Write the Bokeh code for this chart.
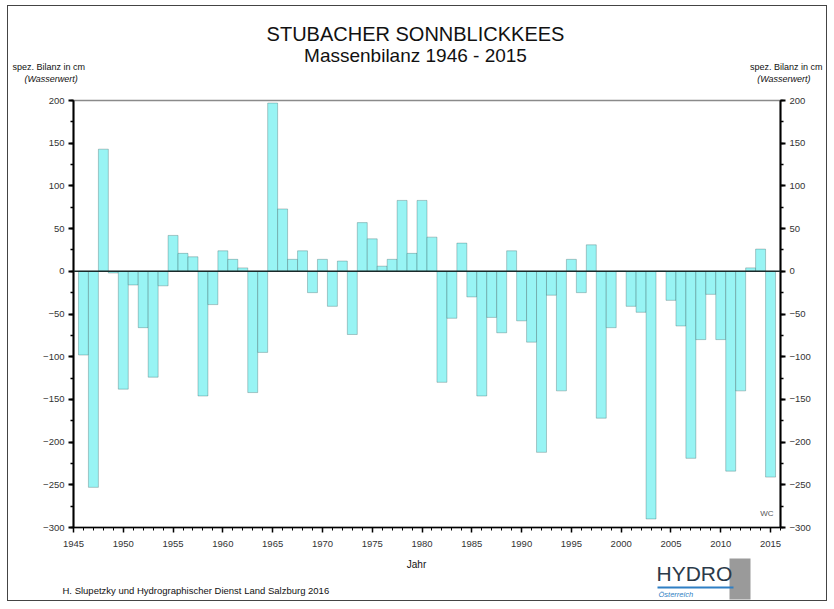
from bokeh.plotting import figure
from bokeh.models import (Range1d, LinearAxis, SingleIntervalTicker, Span, Label,
                          BoxAnnotation, ColumnDataSource)
from bokeh.embed import file_html
from bokeh.resources import INLINE

# ---- data (specific mass balance, cm water equivalent) ----
years = list(range(1946, 2016))
balance = [
    -98, -253, 143, -2, -138, -16, -66, -124, -17, 42,      # 1946-1955
    21, 17, -146, -39, 24, 14, 4, -142, -95, 197,           # 1956-1965
    73, 14, 24, -25, 14, -41, 12, -74, 57, 38,              # 1966-1975
    6, 14, 83, 21, 83, 40, -130, -55, 33, -30,              # 1976-1985
    -146, -54, -72, 24, -58, -83, -212, -28, -140, 14,      # 1986-1995
    -25, 31, -172, -66, 0, -41, -48, -290, 0, -34,          # 1996-2005
    -64, -219, -80, -27, -80, -234, -140, 4, 26, -241,      # 2006-2015
]
title_1 = "STUBACHER SONNBLICKKEES"
title_2 = "Massenbilanz 1946 - 2015"
y_label_1 = "spez. Bilanz in cm"
y_label_2 = "(Wasserwert)"
x_label = "Jahr"
credit = "H. Slupetzky und Hydrographischer Dienst Land Salzburg 2016"

FONT = "Liberation Sans"
OX, OY = 8, 6            # page position of the chart box
W = 820                  # chart box width
TOP_Y, MAIN_Y, BOT_Y, END_Y = OY, 90, 555, 602   # page y of panel edges
FL, FR, FT, FB = 73, 780, 101, 528               # page px of plot frame
EDGE = "1px solid #444"


def panel(y0, y1, styles):
    h = y1 - y0
    f = figure(width=W, height=h, x_range=Range1d(0, W), y_range=Range1d(h, 0),
               x_axis_type=None, y_axis_type=None, min_border=0,
               output_backend="svg", toolbar_location=None)
    f.grid.visible = False
    f.outline_line_color = None
    f.styles = styles
    f._y0 = y0
    return f


def lab(f, px, py, text, size, align="left", style="normal", color="#111111"):
    f.add_layout(Label(x=px - OX, y=py - f._y0, text=text, text_font=FONT,
                       text_font_size=size, text_align=align, text_baseline="middle",
                       text_font_style=style, text_color=color))


# ---- top panel: titles ----
top = panel(TOP_Y, MAIN_Y, {"margin-left": f"{OX - 1}px", "margin-top": f"{OY - 1}px",
                            "border-left": EDGE, "border-right": EDGE, "border-top": EDGE})
lab(top, 415, 33, title_1, "20px", align="center")
lab(top, 415, 55, title_2, "19px", align="center")
lab(top, 12, 66, y_label_1, "9px")
lab(top, 24, 78, y_label_2, "9px", style="italic")
lab(top, 822, 66, y_label_1, "9px", align="right")
lab(top, 810, 78, y_label_2, "9px", align="right", style="italic")

# ---- main chart ----
src = ColumnDataSource(dict(year=years, bal=balance))
p = figure(width=W, height=BOT_Y - MAIN_Y, x_range=Range1d(1945, 2016),
           y_range=Range1d(-300, 200), output_backend="svg", toolbar_location=None,
           min_border_left=FL - OX, min_border_right=OX + W - FR,
           min_border_top=FT - MAIN_Y, min_border_bottom=BOT_Y - FB)
p.styles = {"margin-left": f"{OX - 1}px", "border-left": EDGE, "border-right": EDGE}
p.grid.visible = False
p.outline_line_color = "#8a8a8a"
p.outline_line_width = 1.5

p.vbar(x="year", top="bal", bottom=0, width=1.0, source=src,
       fill_color="#98F4F4", line_color="#103030", line_alpha=0.25, line_width=1)
p.add_layout(Span(location=0, dimension="width", line_color="#1a2a2a", line_width=1.5))

p.xaxis.ticker = SingleIntervalTicker(interval=5, num_minor_ticks=5)
p.yaxis.ticker = SingleIntervalTicker(interval=50, num_minor_ticks=2)
right = LinearAxis(ticker=SingleIntervalTicker(interval=50, num_minor_ticks=2))
p.add_layout(right, "right")

for ax in p.axis:
    ax.axis_line_color = "black"
    ax.major_tick_line_color = "black"
    ax.minor_tick_line_color = "black"
    ax.major_tick_in = 0
    ax.minor_tick_in = 0
    ax.major_tick_out = 5
    ax.minor_tick_out = 3
    ax.major_label_text_font = FONT
    ax.major_label_text_font_size = "9.5px"
    ax.major_label_text_color = "#333333"
    ax.major_label_standoff = 4
for ax in p.yaxis:
    ax.axis_line_width = 2
    ax.major_tick_line_width = 2
    ax.minor_tick_line_width = 1.5
p.xaxis.axis_line_width = 1.5
p.xaxis.major_tick_line_width = 1.5
p.xaxis.major_label_standoff = 8

wc = Label(x=2015.3, y=-284, text="WC", text_font=FONT, text_font_size="8px",
           text_align="right", text_baseline="middle", text_color="#555555")
p.add_layout(wc)

# ---- bottom panel: axis title, credit, logo ----
bot = panel(BOT_Y, END_Y, {"margin-left": f"{OX - 1}px", "border-left": EDGE,
                           "border-right": EDGE, "border-bottom": EDGE})
lab(bot, 416, 565, x_label, "10px", align="center")
lab(bot, 62, 591, credit, "9.5px")
bot.add_layout(BoxAnnotation(left=729 - OX, right=750 - OX, top=559 - BOT_Y, bottom=600 - BOT_Y,
                             fill_color="#9a9a9a", fill_alpha=1, line_color=None))
bot.add_layout(BoxAnnotation(left=657 - OX, right=733 - OX, top=587 - BOT_Y, bottom=589 - BOT_Y,
                             fill_color="#2f7fc4", fill_alpha=1, line_color=None))
lab(bot, 656, 574, "HYDRO", "21px", color="#2b3a4a")
lab(bot, 658, 595, "Österreich", "7.5px", style="italic", color="#2f7fc4")

open("out.html", "w").write(file_html([top, p, bot], INLINE))
